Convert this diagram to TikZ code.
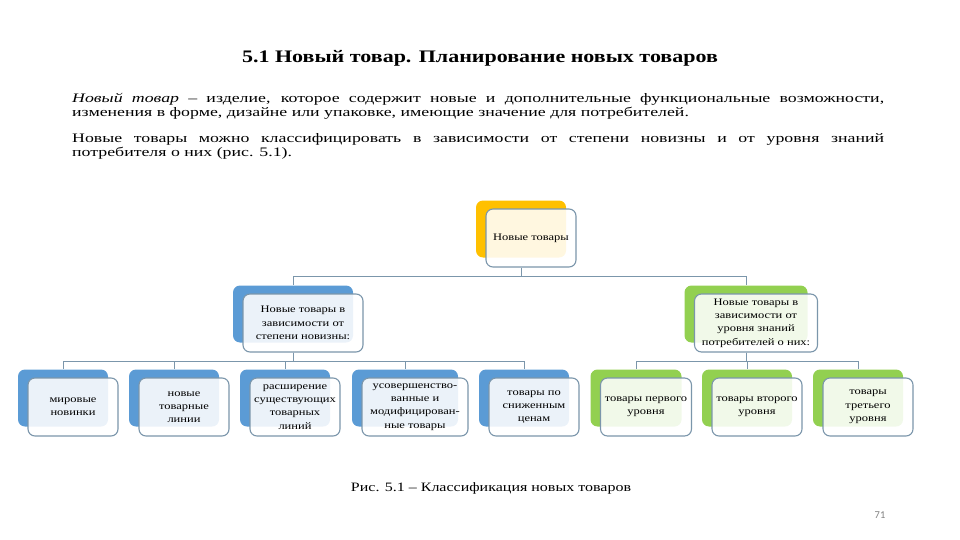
\documentclass[tikz,border=0pt]{standalone}
\usepackage{fontspec}
\setmainfont[FakeStretch=1.25]{Liberation Serif}
\newfontfamily\widefont[FakeStretch=1.37]{Liberation Serif}
\newfontfamily\pagefont{Carlito}
\definecolor{gold}{HTML}{FFC000}
\definecolor{skyblue}{HTML}{5B9BD5}
\definecolor{leaf}{HTML}{92D050}
\definecolor{rim}{HTML}{7B96AB}
\newcommand{\boxh}{57pt}
\newcommand{\boxfont}{\fontsize{10}{13.3}\selectfont}
\newcommand{\sabox}[6]{%
    \node[backbox, fill=#5, minimum width=#4pt] (#1b) at (#2,#3) {};
    \node[frontbox, minimum width=#4pt] (#1) at ([shift={(10pt,-9pt)}]#1b.center) {#6};
}

\begin{document}
\begin{tikzpicture}[x=1pt,y=-1pt]
            \tikzset{backbox/.style = {rounded corners=7pt, minimum height=\boxh, inner sep=0pt},
                frontbox/.style = {draw=rim, line width=1.1pt, fill=white, fill opacity=0.88, text opacity=1,
                    rounded corners=7pt, minimum height=\boxh+1pt, inner sep=1pt, align=center, font=\boxfont},
                link/.style = {draw=rim, line width=0.9pt}}
            \useasboundingbox (0,0) rectangle (960,540);
            \node[font=\fontsize{17.6}{20}\selectfont\bfseries] (title) at (480,58) {5.1 Новый товар. Планирование новых товаров};
            \node[anchor=north west, inner sep=0pt, text width=812pt, align=justify,
                font=\widefont\fontsize{13}{14.5}\selectfont] (intro) at (72,93)
                {\textit{Новый товар} – изделие, которое содержит новые и дополнительные функциональные возможности,\linebreak
                изменения в форме, дизайне или упаковке, имеющие значение для потребителей.\par\vspace{11pt}
                Новые товары можно классифицировать в зависимости от степени новизны и от уровня знаний\linebreak
                потребителя о них (рис. 5.1).\par};
            \sabox{top}{521}{229}{90}{gold}{Новые товары}
            \sabox{ml}{293}{314}{120}{skyblue}{Новые товары в\\зависимости от\\степени новизны:}
            \sabox{mr}{746}{314}{123}{leaf}{Новые товары в\\зависимости от\\уровня знаний\\потребителей о них:}
            \sabox{b1}{63}{398}{90}{skyblue}{мировые\\новинки}
            \sabox{b2}{174}{398}{90}{skyblue}{новые\\товарные\\линии}
            \sabox{b3}{285}{398}{90}{skyblue}{расширение\\существующих\\товарных\\линий}
            \sabox{b4}{405}{398}{106}{skyblue}{усовершенство-\\ванные и\\модифицирован-\\ные товары}
            \sabox{b5}{524}{398}{90}{skyblue}{товары по\\сниженным\\ценам}
            \sabox{g1}{636}{398}{91}{leaf}{товары первого\\уровня}
            \sabox{g2}{747}{398}{90}{leaf}{товары второго\\уровня}
            \sabox{g3}{858}{398}{90}{leaf}{товары\\третьего\\уровня}
            \coordinate (bus0) at (0,276);
            \coordinate (bus1) at (0,361);
            \draw[link] (topb |- top.south) -- (topb |- bus0) -| (mlb.north);
            \draw[link] (topb |- bus0) -| (mrb.north);
            \foreach \n in {b1,b2,b3,b4,b5}
                \draw[link] (mlb |- ml.south) -- (mlb |- bus1) -| (\n b.north);
            \foreach \n in {g1,g2,g3}
                \draw[link] (mrb |- mr.south) -- (mrb |- bus1) -| (\n b.north);
            \node[font=\fontsize{12.8}{15}\selectfont] (caption) at (491,488) {Рис. 5.1 – Классификация новых товаров};
            \node[font=\pagefont\fontsize{10.5}{12}\selectfont, text=gray] (page) at (880,515) {71};
        \end{tikzpicture}
\end{document}
